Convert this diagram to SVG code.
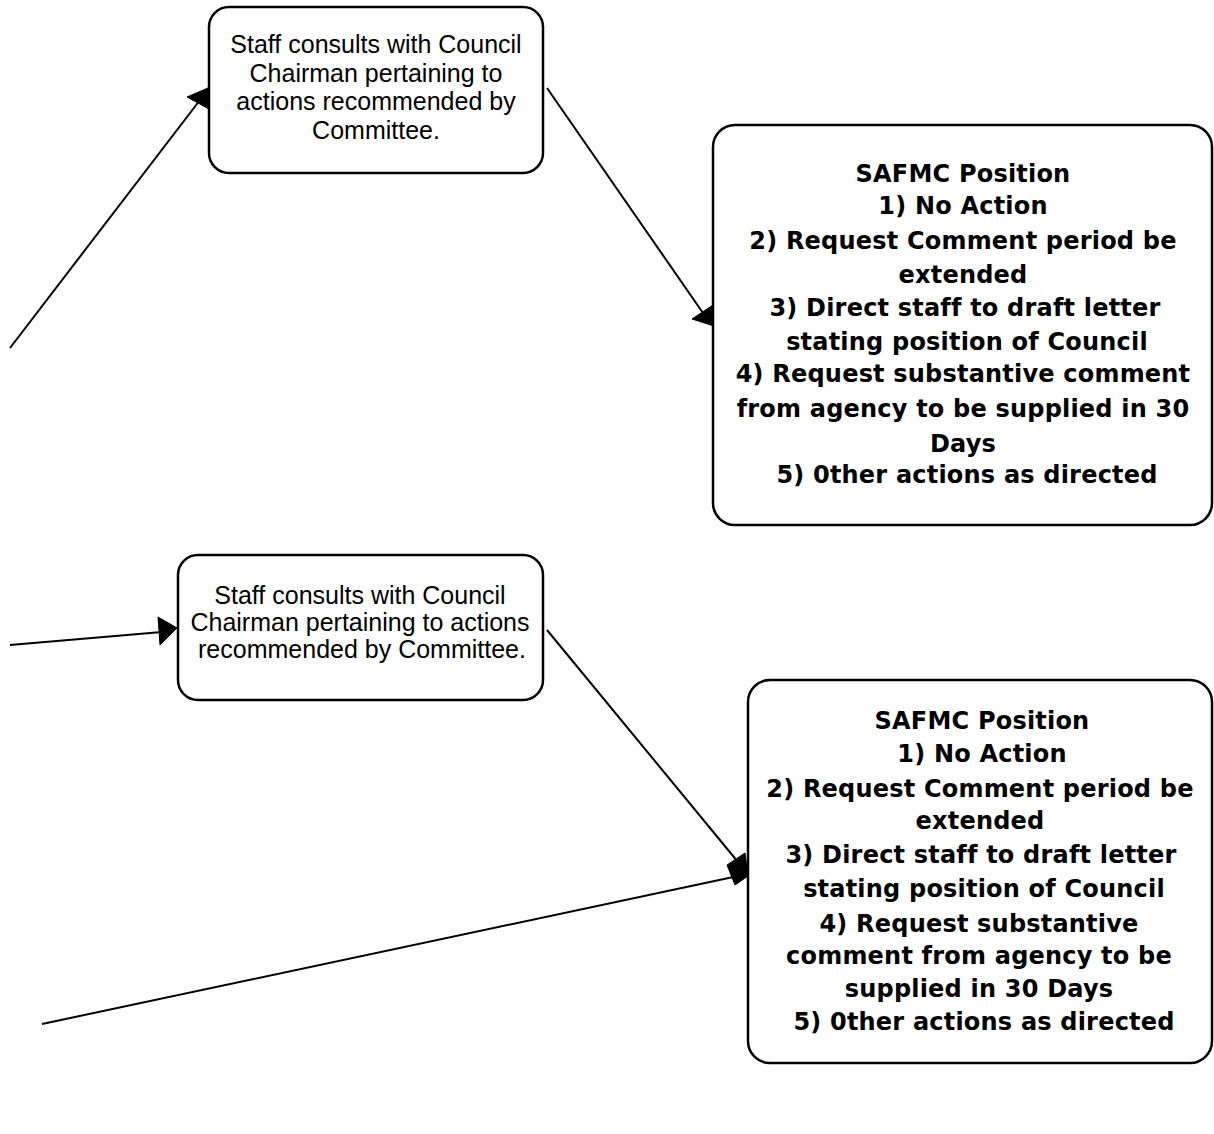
<svg xmlns="http://www.w3.org/2000/svg" width="1214" height="1134" viewBox="0 0 1214 1134">
<style>
.box{fill:#fff;stroke:#000;stroke-width:2.5}
.t{font-family:"Liberation Sans",Arial,sans-serif;font-size:25px;fill:#000;text-anchor:middle}
.b{font-family:"DejaVu Sans",Verdana,sans-serif;font-weight:bold;font-size:24px;letter-spacing:0.2px;fill:#000;text-anchor:middle}
.c{stroke:#000;stroke-width:2;fill:none}
.ah{fill:#000;stroke:#000;stroke-width:1}
</style>
<rect width="1214" height="1134" fill="#fff"/>
<g id="connectors">
<line class="c" x1="10" y1="348" x2="200" y2="100"/>
<polygon class="ah" points="187,97 208,88 209,109"/>
<line class="c" x1="547" y1="88" x2="703" y2="313"/>
<polygon class="ah" points="692,319 713,305 714,326"/>
<line class="c" x1="10" y1="645" x2="162" y2="632"/>
<polygon class="ah" points="158,617 177,628 160,645"/>
<line class="c" x1="547" y1="630" x2="738" y2="862"/>
<line class="c" x1="42" y1="1024" x2="738" y2="876"/>
<polygon class="ah" points="745,853 727,865 735,885 748,876"/>
</g>
<g id="node1">
<rect class="box" x="209" y="7" width="334" height="166" rx="20"/>
<text class="t" x="376" y="53">Staff consults with Council</text>
<text class="t" x="376" y="82">Chairman pertaining to</text>
<text class="t" x="376" y="110">actions recommended by</text>
<text class="t" x="376" y="139">Committee.</text>
</g>
<g id="node2">
<rect class="box" x="713" y="125" width="499" height="400" rx="22"/>
<text class="b" x="963" y="182">SAFMC Position</text>
<text class="b" x="963" y="214">1) No Action</text>
<text class="b" x="963" y="249">2) Request Comment period be</text>
<text class="b" x="963" y="283">extended</text>
<text class="b" x="965" y="316">3) Direct staff to draft letter</text>
<text class="b" x="967" y="350">stating position of Council</text>
<text class="b" x="963" y="382">4) Request substantive comment</text>
<text class="b" x="963" y="417">from agency to be supplied in 30</text>
<text class="b" x="963" y="452">Days</text>
<text class="b" x="967" y="483">5) 0ther actions as directed</text>
</g>
<g id="node3">
<rect class="box" x="748" y="680" width="464" height="383" rx="22"/>
<text class="b" x="982" y="729">SAFMC Position</text>
<text class="b" x="982" y="762">1) No Action</text>
<text class="b" x="980" y="797">2) Request Comment period be</text>
<text class="b" x="980" y="829">extended</text>
<text class="b" x="981" y="863">3) Direct staff to draft letter</text>
<text class="b" x="984" y="897">stating position of Council</text>
<text class="b" x="979" y="932">4) Request substantive</text>
<text class="b" x="979" y="964">comment from agency to be</text>
<text class="b" x="979" y="997">supplied in 30 Days</text>
<text class="b" x="984" y="1030">5) 0ther actions as directed</text>
</g>
<g id="node4">
<rect class="box" x="178" y="555" width="365" height="145" rx="20"/>
<text class="t" x="360" y="604">Staff consults with Council</text>
<text class="t" x="360" y="631">Chairman pertaining to actions</text>
<text class="t" x="362" y="658">recommended by Committee.</text>
</g>
</svg>
